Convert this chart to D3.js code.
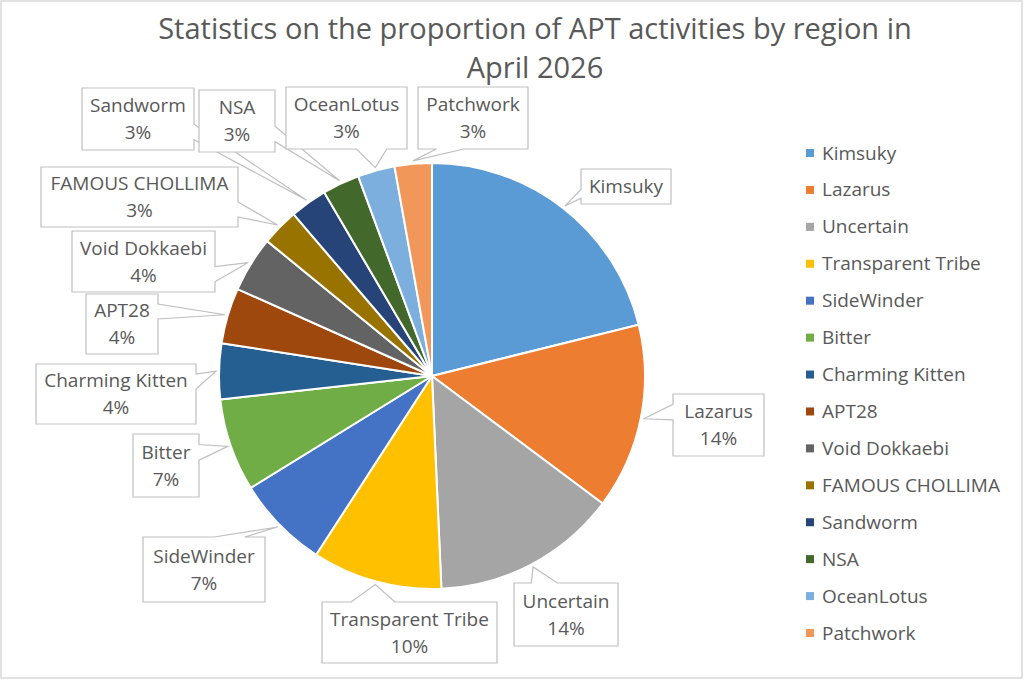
<!DOCTYPE html>
<html>
<head>
<meta charset="utf-8">
<script src="https://cdn.jsdelivr.net/npm/d3@7"></script>
<style>
  body { margin: 0; background: #fff; }
  svg { display: block; font-family: "Open Sans", Lato, sans-serif; }
  .lbl, .legend text, .title { fill: #595959; }
</style>
</head>
<body>
<svg class="pie-chart" width="1024" height="680"></svg>
<script>
"use strict";

// activity counts per group, April 2026
var groups = ["Kimsuky", "Lazarus", "Uncertain", "Transparent Tribe", "SideWinder", "Bitter",
    "Charming Kitten", "APT28", "Void Dokkaebi", "FAMOUS CHOLLIMA", "Sandworm", "NSA",
    "OceanLotus", "Patchwork"];
var counts = [15, 10, 10, 7, 5, 5, 3, 3, 3, 2, 2, 2, 2, 2];
// Kimsuky's callout only shows the name
var showPercent = [false, true, true, true, true, true, true, true, true, true, true, true, true, true];
var titleLines = ["Statistics on the proportion of APT activities by region in", "April 2026"];

var colors = ["#5B9BD5", "#ED7D31", "#A5A5A5", "#FFC000", "#4472C4", "#70AD47", "#255E91",
    "#9E480E", "#636363", "#997300", "#264478", "#43682B", "#7CAFDD", "#F1975A"];

// callout boxes [left, top, right, bottom]
var labelBoxes = [
    [581, 169, 671, 204], [673, 394, 764, 456], [514, 583, 618, 646], [322, 602, 497, 663],
    [143, 537, 265, 602], [133, 434, 199, 497], [36, 364, 196, 424], [86, 294, 158, 354],
    [72, 231, 215, 292], [41, 167, 238, 227], [82, 88, 194, 150], [199, 90, 275, 152],
    [286, 87, 407, 149], [418, 87, 528, 149]
];

// excel style wedgeRectCallout outline
function calloutPath(b, tip) {
    var l = b[0], t = b[1], r = b[2], bt = b[3];
    var w = r - l, h = bt - t;
    var dx = tip[0] - (l + r) / 2, dy = tip[1] - (t + bt) / 2;
    var dq = dx * h / w;
    var x1 = l + w * (dx > 0 ? 7 : 2) / 12, x2 = l + w * (dx > 0 ? 10 : 5) / 12;
    var y1 = t + h * (dy > 0 ? 7 : 2) / 12, y2 = t + h * (dy > 0 ? 10 : 5) / 12;
    var vert = Math.abs(dy) > Math.abs(dq);
    var p = d3.path();
    p.moveTo(l, t);
    if (vert && dy < 0) { p.lineTo(x1, t); p.lineTo(tip[0], tip[1]); p.lineTo(x2, t); }
    p.lineTo(r, t);
    if (!vert && dx > 0) { p.lineTo(r, y1); p.lineTo(tip[0], tip[1]); p.lineTo(r, y2); }
    p.lineTo(r, bt);
    if (vert && dy > 0) { p.lineTo(x2, bt); p.lineTo(tip[0], tip[1]); p.lineTo(x1, bt); }
    p.lineTo(l, bt);
    if (!vert && dx < 0) { p.lineTo(l, y2); p.lineTo(tip[0], tip[1]); p.lineTo(l, y1); }
    p.closePath();
    return p.toString();
}

function drawPieChart() {
    var svg = d3.select("svg.pie-chart");
    var cx = 432, cy = 376, radius = 213;
    var total = d3.sum(counts);
    var fmt = d3.format(".0%");

    svg.append("rect").attr("x", 1).attr("y", 1).attr("width", 1021).attr("height", 677)
        .attr("fill", "#fff").attr("stroke", "#d9d9d9").attr("stroke-width", 1.5);

    svg.selectAll(".title").data(titleLines).enter().append("text").attr("class", "title")
        .attr("x", 535).attr("y", function (d, i) { return 39 + i * 39; })
        .attr("text-anchor", "middle").attr("font-size", 29).text(function (d) { return d; });

    var pie = d3.pie().sort(null).value(function (d) { return d; });
    var arcs = pie(counts);
    var arc = d3.arc().innerRadius(0).outerRadius(radius);
    var edge = d3.arc().innerRadius(radius + 3).outerRadius(radius + 3);

    var g = svg.append("g").attr("transform", "translate(" + cx + ", " + cy + ")");
    g.selectAll(".slice").data(arcs).enter().append("path").attr("class", "slice")
        .attr("d", arc).attr("fill", function (d, i) { return colors[i]; })
        .attr("stroke", "#fff").attr("stroke-width", 2).attr("stroke-linejoin", "round");

    var labels = svg.selectAll(".callout").data(arcs).enter().append("g").attr("class", "callout");
    labels.append("path").attr("d", function (d, i) {
        var c = edge.centroid(d);
        return calloutPath(labelBoxes[i], [cx + c[0], cy + c[1]]);
    }).attr("fill", "#fff").attr("stroke", "#bfbfbf").attr("stroke-width", 1.2);

    labels.each(function (d, i) {
        var b = labelBoxes[i];
        var mx = (b[0] + b[2]) / 2, my = (b[1] + b[3]) / 2;
        var lines = showPercent[i] ? [groups[i], fmt(d.value / total)] : [groups[i]];
        d3.select(this).selectAll("text").data(lines).enter().append("text").attr("class", "lbl")
            .attr("x", mx).attr("y", function (t, k) { return my + 6.5 + (k - (lines.length - 1) / 2) * 27; })
            .attr("text-anchor", "middle").attr("font-size", 19).text(function (t) { return t; });
    });

    var y = d3.scalePoint().domain(groups).range([153, 633]);
    var legend = svg.append("g").attr("class", "legend").selectAll("g").data(groups).enter().append("g")
        .attr("transform", function (d) { return "translate(806, " + y(d) + ")"; });
    legend.append("rect").attr("x", 0).attr("y", -4).attr("width", 8).attr("height", 8)
        .attr("fill", function (d, i) { return colors[i]; });
    legend.append("text").attr("x", 16).attr("y", 6.5).attr("font-size", 19).text(function (d) { return d; });
}

drawPieChart();
</script>
</body>
</html>
